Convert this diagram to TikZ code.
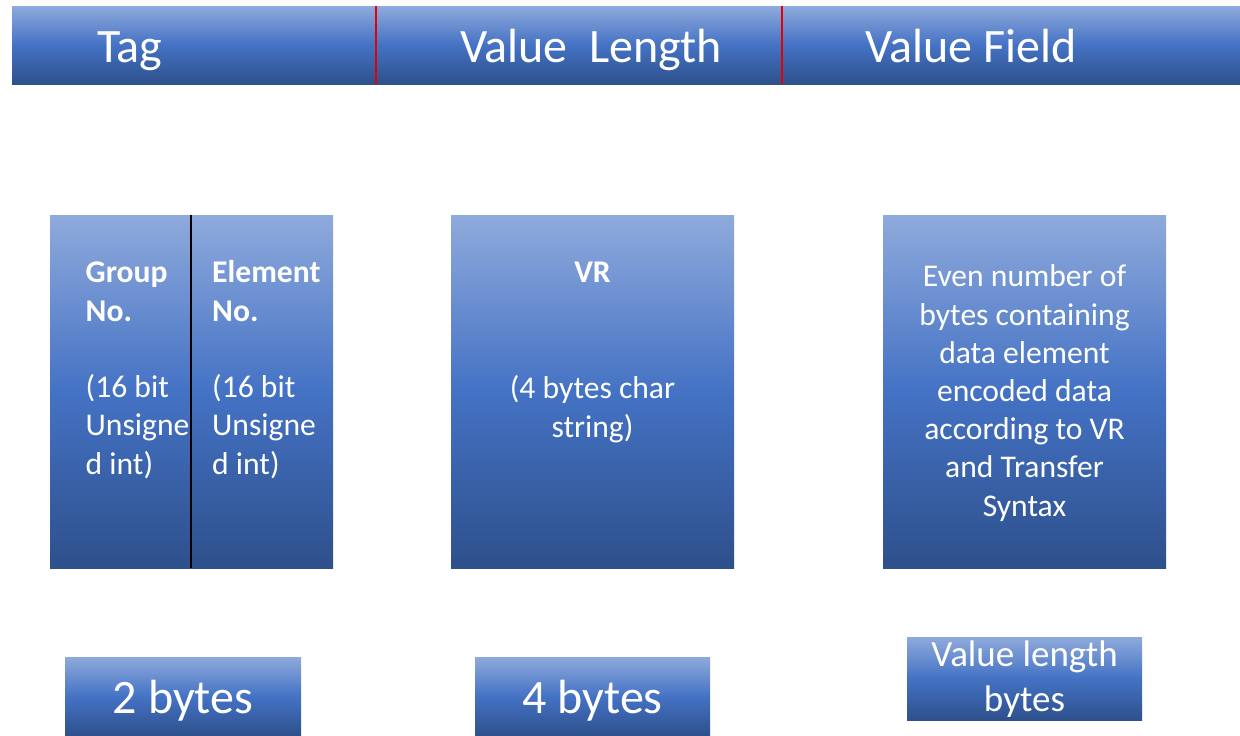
\documentclass[tikz,border=0pt]{standalone}
\usepackage{fontspec}
\setmainfont{Carlito}
\definecolor{gtop}{RGB}{143,170,220}
\definecolor{gmid}{RGB}{68,114,196}
\definecolor{gbot}{RGB}{46,80,140}
\definecolor{sepred}{RGB}{230,0,0}
\tikzset{
  panel/.style={shape=rectangle, draw=none, inner sep=0pt, outer sep=0pt,
    anchor=north west, top color=gtop, bottom color=gbot, middle color=gmid},
  redsep/.style={draw=sepred, line width=2pt},
  divider/.style={draw=black, line width=2.2pt},
  bigtxt/.style={text=white, inner sep=0pt, font=\fontsize{48}{58}\selectfont},
  midtxt/.style={text=white, inner sep=0pt, font=\fontsize{37}{45}\selectfont},
  bodytxt/.style={text=white, inner sep=0pt, font=\fontsize{31.6}{38.2}\selectfont},
}
\begin{document}
\begin{tikzpicture}[x=1pt,y=-1pt]
\useasboundingbox (0,0) rectangle (1240,736);
\fill[white] (0,0) rectangle (1240,736);

% header bar with its three fields
\node[panel, minimum width=1228pt, minimum height=78pt] (header) at (12,6) {};
\draw[redsep] ([xshift=364pt]header.north west) -- ([xshift=364pt]header.south west);
\draw[redsep] ([xshift=770pt]header.north west) -- ([xshift=770pt]header.south west);
\node[bigtxt, anchor=base west] (htag) at (97,62) {Tag};
\node[bigtxt, anchor=base west] (hlen) at (460,62) {Value~~Length};
\node[bigtxt, anchor=base west] (hval) at (865,62) {Value Field};

% tag: group and element numbers (multi-line nodes sit on their last baseline)
\node[panel, minimum width=283pt, minimum height=353pt] (tagbox) at (50,215) {};
\draw[divider] ([xshift=141pt]tagbox.north west) -- ([xshift=141pt]tagbox.south west);
\node[bodytxt, anchor=base west, align=left] (grp) at (85.5,321) {\textbf{Group}\\\textbf{No.}};
\node[bodytxt, anchor=base west, align=left] (grpt) at (85.5,474) {(16 bit\\Unsigne\\d int)};
\node[bodytxt, anchor=base west, align=left] (elm) at (212,321) {\textbf{Element}\\\textbf{No.}};
\node[bodytxt, anchor=base west, align=left] (elmt) at (212,474) {(16 bit\\Unsigne\\d int)};

% value representation
\node[panel, minimum width=283pt, minimum height=353pt] (vrbox) at (451,215) {};
\node[bodytxt, anchor=base] (vr) at (592.5,282) {\textbf{VR}};
\node[bodytxt, anchor=base, align=center] (vrt) at (592.5,437) {(4 bytes char\\string)};

% value field
\node[panel, minimum width=283pt, minimum height=353pt] (valbox) at (883,215) {};
\node[bodytxt, anchor=base, align=center] (valt) at (1024.5,516)
  {Even number of\\bytes containing\\data element\\encoded data\\according to VR\\and Transfer\\Syntax};

% sizes
\node[panel, minimum width=236pt, minimum height=79pt] (sz1) at (65,657) {};
\node[bigtxt, anchor=base] (sz1t) at (183,713) {2 bytes};
\node[panel, minimum width=235pt, minimum height=79pt] (sz2) at (475,657) {};
\node[bigtxt, anchor=base] (sz2t) at (592.5,713) {4 bytes};
\node[panel, minimum width=235pt, minimum height=83pt] (sz3) at (907,637) {};
\node[midtxt, anchor=base, align=center] (sz3t) at (1024.5,711) {Value length\\bytes};
\end{tikzpicture}
\end{document}
